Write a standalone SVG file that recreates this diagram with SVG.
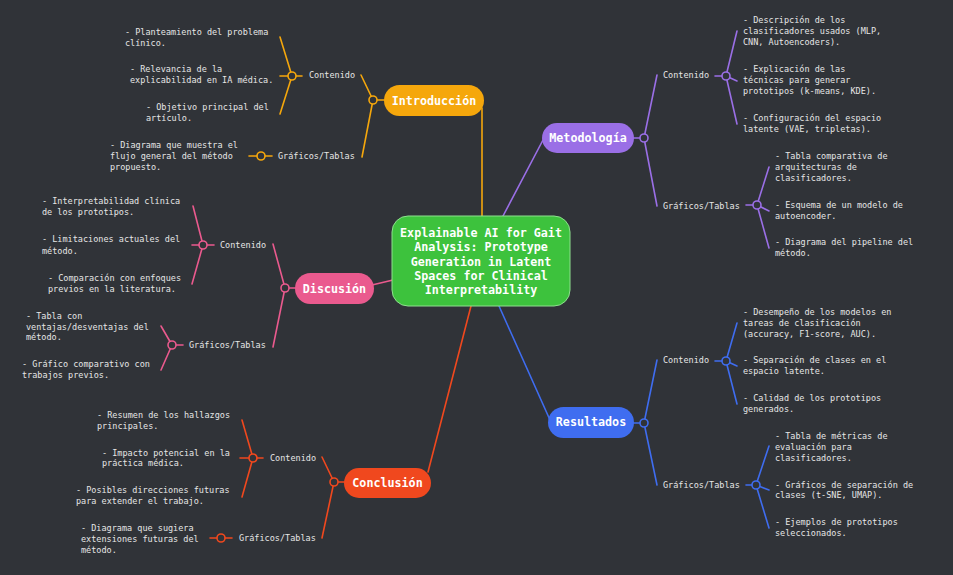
<svg xmlns="http://www.w3.org/2000/svg" width="953" height="575" viewBox="0 0 953 575">
<style>
.t{font-family:"DejaVu Sans Mono","Liberation Mono",monospace;font-size:8.5px;fill:#e6e6e6}
.p{font-family:"DejaVu Sans Mono","Liberation Mono",monospace;font-size:11.7px;font-weight:bold;fill:#ffffff;text-anchor:middle}
.ln{fill:none;stroke-width:1.6;stroke-linecap:round}
.dot{fill:#303338;stroke-width:1.6}
.in{stroke:#f5a70c}
.me{stroke:#9a6fe6}
.di{stroke:#ea5a8e}
.co{stroke:#f0481e}
.re{stroke:#3f6df0}
</style>
<rect width="953" height="575" fill="#303338"/>
<g id="connectors">
<line class="ln in" x1="482" y1="108" x2="482" y2="216"/>
<line class="ln me" x1="503" y1="216" x2="543" y2="140"/>
<line class="ln di" x1="372" y1="285" x2="393" y2="280"/>
<line class="ln co" x1="471" y1="306" x2="428" y2="472"/>
<line class="ln re" x1="499" y1="306" x2="550" y2="420"/>
<!-- Introduccion -->
<line class="ln in" x1="373" y1="100" x2="385" y2="100"/>
<line class="ln in" x1="373" y1="100" x2="361" y2="75"/>
<line class="ln in" x1="373" y1="100" x2="362" y2="157"/>
<line class="ln in" x1="292" y1="76" x2="280" y2="37"/>
<line class="ln in" x1="280" y1="76" x2="302" y2="76"/>
<line class="ln in" x1="292" y1="76" x2="280" y2="114"/>
<line class="ln in" x1="249" y1="156" x2="272" y2="156"/>
<!-- Discusion -->
<line class="ln di" x1="285" y1="288" x2="296" y2="288"/>
<line class="ln di" x1="285" y1="288" x2="273" y2="244"/>
<line class="ln di" x1="285" y1="288" x2="273" y2="347"/>
<line class="ln di" x1="203" y1="245" x2="193" y2="206"/>
<line class="ln di" x1="192" y1="245" x2="214" y2="245"/>
<line class="ln di" x1="203" y1="245" x2="192" y2="284"/>
<line class="ln di" x1="172" y1="345" x2="183" y2="345"/>
<line class="ln di" x1="172" y1="345" x2="161" y2="326"/>
<line class="ln di" x1="172" y1="345" x2="161" y2="370"/>
<!-- Conclusion -->
<line class="ln co" x1="334" y1="482" x2="345" y2="482"/>
<line class="ln co" x1="334" y1="482" x2="322" y2="457"/>
<line class="ln co" x1="334" y1="482" x2="322" y2="538"/>
<line class="ln co" x1="253" y1="458" x2="242" y2="420"/>
<line class="ln co" x1="240" y1="458" x2="263" y2="458"/>
<line class="ln co" x1="253" y1="458" x2="242" y2="497"/>
<line class="ln co" x1="210" y1="538" x2="232" y2="538"/>
<!-- Metodologia -->
<line class="ln me" x1="633" y1="138" x2="644" y2="138"/>
<line class="ln me" x1="644" y1="138" x2="657" y2="75"/>
<line class="ln me" x1="644" y1="138" x2="657" y2="206"/>
<line class="ln me" x1="715" y1="76" x2="726" y2="76"/>
<line class="ln me" x1="726" y1="76" x2="737" y2="31"/>
<line class="ln me" x1="726" y1="76" x2="737" y2="81"/>
<line class="ln me" x1="726" y1="76" x2="737" y2="124"/>
<line class="ln me" x1="746" y1="205" x2="757" y2="205"/>
<line class="ln me" x1="757" y1="205" x2="769" y2="167"/>
<line class="ln me" x1="757" y1="205" x2="769" y2="211"/>
<line class="ln me" x1="757" y1="205" x2="769" y2="248"/>
<!-- Resultados -->
<line class="ln re" x1="633" y1="423" x2="644" y2="423"/>
<line class="ln re" x1="644" y1="423" x2="657" y2="360"/>
<line class="ln re" x1="644" y1="423" x2="657" y2="485"/>
<line class="ln re" x1="715" y1="361" x2="726" y2="361"/>
<line class="ln re" x1="726" y1="361" x2="737" y2="323"/>
<line class="ln re" x1="726" y1="361" x2="737" y2="366"/>
<line class="ln re" x1="726" y1="361" x2="737" y2="404"/>
<line class="ln re" x1="746" y1="485" x2="756" y2="485"/>
<line class="ln re" x1="756" y1="485" x2="769" y2="446"/>
<line class="ln re" x1="756" y1="485" x2="769" y2="490"/>
<line class="ln re" x1="756" y1="485" x2="769" y2="528"/>
<!-- junction dots -->
<circle class="dot in" cx="373" cy="100" r="4"/>
<circle class="dot in" cx="292" cy="76" r="4"/>
<circle class="dot in" cx="261" cy="156" r="4"/>
<circle class="dot di" cx="285" cy="288" r="4"/>
<circle class="dot di" cx="203" cy="245" r="4"/>
<circle class="dot di" cx="172" cy="345" r="4"/>
<circle class="dot co" cx="334" cy="482" r="4"/>
<circle class="dot co" cx="253" cy="458" r="4"/>
<circle class="dot co" cx="221" cy="538" r="4"/>
<circle class="dot me" cx="644" cy="138" r="4"/>
<circle class="dot me" cx="726" cy="76" r="4"/>
<circle class="dot me" cx="757" cy="205" r="4"/>
<circle class="dot re" cx="644" cy="423" r="4"/>
<circle class="dot re" cx="726" cy="361" r="4"/>
<circle class="dot re" cx="756" cy="485" r="4"/>
</g>
<g id="center">
<rect x="392" y="216" width="178" height="90" rx="16" fill="#3dc23d" stroke="#8ee08e" stroke-width="1"/>
<text class="p" x="481" y="237">Explainable AI for Gait</text>
<text class="p" x="481" y="251">Analysis: Prototype</text>
<text class="p" x="481" y="266">Generation in Latent</text>
<text class="p" x="481" y="280">Spaces for Clinical</text>
<text class="p" x="481" y="294">Interpretability</text>
</g>
<g id="introduccion">
<rect x="384" y="85" width="100" height="31" rx="15.5" fill="#f5a70c"/>
<text class="p" x="434" y="105">Introducción</text>
<text class="t" x="309" y="78">Contenido</text>
<text class="t" x="278" y="159">Gráficos/Tablas</text>
<text class="t" x="125" y="35">- Planteamiento del problema</text>
<text class="t" x="125" y="46">clínico.</text>
<text class="t" x="130" y="72">- Relevancia de la</text>
<text class="t" x="130" y="83">explicabilidad en IA médica.</text>
<text class="t" x="146" y="110">- Objetivo principal del</text>
<text class="t" x="146" y="121">artículo.</text>
<text class="t" x="110" y="148">- Diagrama que muestra el</text>
<text class="t" x="110" y="159">flujo general del método</text>
<text class="t" x="110" y="170">propuesto.</text>
</g>
<g id="discusion">
<rect x="295" y="273" width="79" height="31" rx="15.5" fill="#ea5a8e"/>
<text class="p" x="334.5" y="293">Discusión</text>
<text class="t" x="220" y="248">Contenido</text>
<text class="t" x="189" y="348">Gráficos/Tablas</text>
<text class="t" x="42" y="204">- Interpretabilidad clínica</text>
<text class="t" x="42" y="215">de los prototipos.</text>
<text class="t" x="42" y="242">- Limitaciones actuales del</text>
<text class="t" x="42" y="254">método.</text>
<text class="t" x="48" y="281">- Comparación con enfoques</text>
<text class="t" x="48" y="292">previos en la literatura.</text>
<text class="t" x="26" y="319">- Tabla con</text>
<text class="t" x="26" y="330">ventajas/desventajas del</text>
<text class="t" x="26" y="340">método.</text>
<text class="t" x="22" y="367">- Gráfico comparativo con</text>
<text class="t" x="22" y="378">trabajos previos.</text>
</g>
<g id="conclusion">
<rect x="344" y="468" width="87" height="30" rx="15" fill="#f0481e"/>
<text class="p" x="387.5" y="487">Conclusión</text>
<text class="t" x="270" y="461">Contenido</text>
<text class="t" x="239" y="541">Gráficos/Tablas</text>
<text class="t" x="97" y="418">- Resumen de los hallazgos</text>
<text class="t" x="97" y="429">principales.</text>
<text class="t" x="102" y="456">- Impacto potencial en la</text>
<text class="t" x="102" y="466">práctica médica.</text>
<text class="t" x="76" y="493">- Posibles direcciones futuras</text>
<text class="t" x="76" y="504">para extender el trabajo.</text>
<text class="t" x="81" y="531">- Diagrama que sugiera</text>
<text class="t" x="81" y="542">extensiones futuras del</text>
<text class="t" x="81" y="553">método.</text>
</g>
<g id="metodologia">
<rect x="542" y="123" width="92" height="30" rx="15" fill="#9a6fe6"/>
<text class="p" x="588" y="142">Metodología</text>
<text class="t" x="663" y="78">Contenido</text>
<text class="t" x="663" y="209">Gráficos/Tablas</text>
<text class="t" x="743" y="23">- Descripción de los</text>
<text class="t" x="743" y="34">clasificadores usados (MLP,</text>
<text class="t" x="743" y="45">CNN, Autoencoders).</text>
<text class="t" x="743" y="72">- Explicación de las</text>
<text class="t" x="743" y="83">técnicas para generar</text>
<text class="t" x="743" y="94">prototipos (k-means, KDE).</text>
<text class="t" x="743" y="121">- Configuración del espacio</text>
<text class="t" x="743" y="132">latente (VAE, tripletas).</text>
<text class="t" x="775" y="159">- Tabla comparativa de</text>
<text class="t" x="775" y="170">arquitecturas de</text>
<text class="t" x="775" y="181">clasificadores.</text>
<text class="t" x="775" y="208">- Esquema de un modelo de</text>
<text class="t" x="775" y="219">autoencoder.</text>
<text class="t" x="775" y="245">- Diagrama del pipeline del</text>
<text class="t" x="775" y="256">método.</text>
</g>
<g id="resultados">
<rect x="548" y="407" width="86" height="31" rx="15.5" fill="#3f6df0"/>
<text class="p" x="591" y="426">Resultados</text>
<text class="t" x="663" y="363">Contenido</text>
<text class="t" x="663" y="488">Gráficos/Tablas</text>
<text class="t" x="743" y="315">- Desempeño de los modelos en</text>
<text class="t" x="743" y="326">tareas de clasificación</text>
<text class="t" x="743" y="337">(accuracy, F1-score, AUC).</text>
<text class="t" x="743" y="363">- Separación de clases en el</text>
<text class="t" x="743" y="374">espacio latente.</text>
<text class="t" x="743" y="401">- Calidad de los prototipos</text>
<text class="t" x="743" y="412">generados.</text>
<text class="t" x="775" y="439">- Tabla de métricas de</text>
<text class="t" x="775" y="450">evaluación para</text>
<text class="t" x="775" y="461">clasificadores.</text>
<text class="t" x="775" y="488">- Gráficos de separación de</text>
<text class="t" x="775" y="498">clases (t-SNE, UMAP).</text>
<text class="t" x="775" y="525">- Ejemplos de prototipos</text>
<text class="t" x="775" y="536">seleccionados.</text>
</g>
</svg>
